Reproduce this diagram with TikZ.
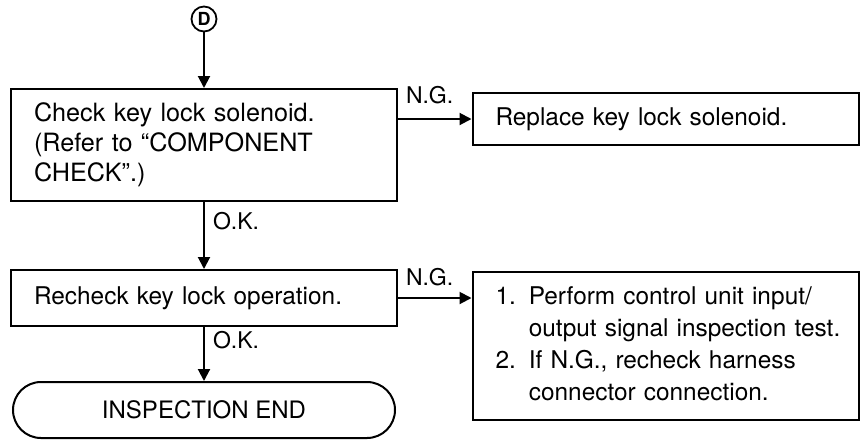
\documentclass[tikz,border=0pt]{standalone}
\usepackage{fontspec}
\setmainfont{TeX Gyre Heros}
\usetikzlibrary{positioning, arrows.meta}

\begin{document}
\begin{tikzpicture}[x=0.5pt, y=0.5pt, on grid, line width=1pt,
    >={Triangle[length=6pt, width=6pt]},
    box/.style={draw, text width=170pt, align=left, inner xsep=11.5pt, inner ysep=0pt,
      font=\fontsize{12.2}{14.5}\selectfont},
    circ/.style={draw, circle, line width=0.9pt, minimum size=12.5pt, inner sep=0pt,
      font=\bfseries\fontsize{9}{9}\selectfont},
    stadium/.style={draw, rounded corners=14pt, minimum width=191pt, minimum height=28pt,
      font=\fontsize{12}{14}\selectfont},
    lbl/.style={font=\fontsize{11.5}{12}\selectfont, inner sep=0pt}]
   \useasboundingbox (0,0) rectangle (860,-440);

   \node[circ] (d) at (204,-19) {D};

   % check and repair branch
   \node[box, minimum height=56pt, font=\fontsize{12.6}{15}\selectfont] (b1) [below=63pt of d]
     {Check key lock solenoid.\\(Refer to “COMPONENT\\CHECK”.)};
   \node[box, minimum height=26pt] (b2) [above right=13pt and 230.75pt of b1]
     {Replace key lock solenoid.};

   % recheck branch
   \node[box, minimum height=28pt] (b3) [below=76.5pt of b1] {Recheck key lock operation.};
   \node[box, minimum height=74pt, font=\fontsize{12.2}{16}\selectfont] (b4)
     [below right=24pt and 230.75pt of b3]
     {\begin{tabular}{@{}l@{\hspace{6.5pt}}l@{}}
        1. & Perform control unit input/\\
           & output signal inspection test.\\
        2. & If N.G., recheck harness\\
           & connector connection.
      \end{tabular}};

   \node[stadium] (end) [below=56pt of b3] {INSPECTION END};

   \draw[->] (d) -- (b1);
   \draw[->] (b1.east |- b2.west) -- node[lbl, pos=0, anchor=south west, xshift=3.5pt, yshift=7pt] {N.G.} (b2.west);
   \draw[->] (b1) -- node[lbl, pos=0.29, anchor=west, xshift=4pt] {O.K.} (b3);
   \draw[->] (b3.east) -- node[lbl, pos=0, anchor=south west, xshift=3.5pt, yshift=5.5pt] {N.G.} (b4.west |- b3.east);
   \draw[->] (b3) -- node[lbl, pos=0.25, anchor=west, xshift=4pt] {O.K.} (end);
\end{tikzpicture}
\end{document}
